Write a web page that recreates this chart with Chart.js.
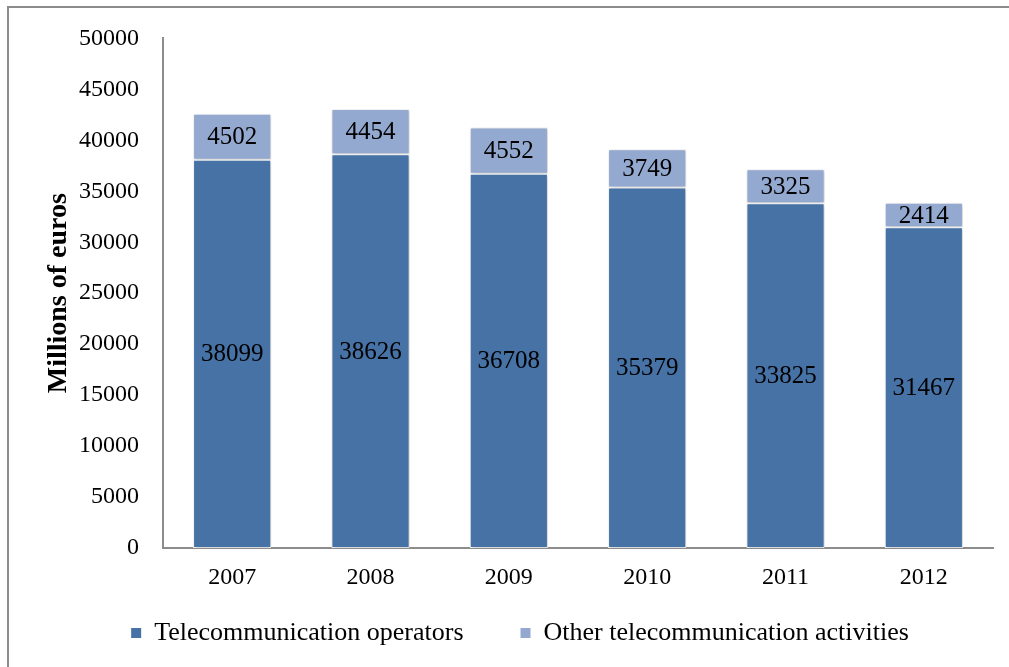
<!DOCTYPE html>
<html>
<head>
<meta charset="utf-8">
<script src="https://cdn.jsdelivr.net/npm/chart.js@4/dist/chart.umd.min.js"></script>
<style>
  html, body { margin: 0; padding: 0; background: #fff; }
  #wrap { position: relative; width: 1009px; height: 667px; overflow: hidden; }
  #frame { position: absolute; left: 7px; top: 6px; width: 1020px; height: 680px;
           border: 2px solid #8c8c8c; pointer-events: none; box-sizing: border-box; }
</style>
</head>
<body>
<div id="wrap">
  <canvas id="chart" width="1009" height="667"></canvas>
  <div id="frame"></div>
</div>
<script>
const years = ['2007', '2008', '2009', '2010', '2011', '2012'];
const operators = [38099, 38626, 36708, 35379, 33825, 31467];
const otherActivities = [4502, 4454, 4552, 3749, 3325, 2414];
const seriesNames = ['Telecommunication operators', 'Other telecommunication activities'];

const serif = "'Liberation Serif', 'DejaVu Serif', serif";

// numbers inside each segment
const segmentLabels = {
  id: 'segmentLabels',
  afterDatasetsDraw(chart) {
    const ctx = chart.ctx;
    ctx.save();
    ctx.font = '25px ' + serif;
    ctx.fillStyle = '#000';
    ctx.textAlign = 'center';
    ctx.textBaseline = 'middle';
    chart.data.datasets.forEach((ds, i) => {
      chart.getDatasetMeta(i).data.forEach((bar, j) => {
        const y = (bar.y + bar.base) / 2;
        ctx.fillText(String(ds.data[j]), bar.x, y + 1);
      });
    });
    ctx.restore();
  }
};

const barShadow = {
  id: 'barShadow',
  beforeDatasetsDraw(chart) {
    const ctx = chart.ctx;
    ctx.save();
    ctx.shadowColor = 'rgba(0,0,0,0.25)';
    ctx.shadowBlur = 4;
    ctx.shadowOffsetX = 1;
    ctx.shadowOffsetY = 1;
  },
  afterDatasetsDraw(chart) {
    chart.ctx.restore();
  }
};

// legend padding doubles as item gap; pull the row back up
const legendNudge = {
  id: 'legendNudge',
  afterLayout(chart) {
    if (chart.legend) {
      chart.legend.top -= 28;
    }
  }
};

new Chart(document.getElementById('chart'), {
  type: 'bar',
  data: {
    labels: years,
    datasets: [
      {
        label: seriesNames[0],
        data: operators,
        backgroundColor: '#4672a6',
        borderColor: '#ffffff',
        borderWidth: 1,
        borderSkipped: false
      },
      {
        label: seriesNames[1],
        data: otherActivities,
        backgroundColor: '#94a9d0',
        borderColor: '#ffffff',
        borderWidth: 1,
        borderSkipped: false
      }
    ]
  },
  options: {
    responsive: false,
    animation: false,
    categoryPercentage: 0.565,
    barPercentage: 1,
    layout: { padding: { top: 23, right: 16, left: 47, bottom: 6 } },
    scales: {
      x: {
        stacked: true,
        grid: { display: false, drawTicks: false },
        border: { color: '#8c8c8c', width: 2 },
        ticks: { color: '#000', font: { family: serif, size: 24 }, padding: 15 },
        afterFit(scale) { scale.height = 43; }
      },
      y: {
        stacked: true,
        min: 0,
        max: 50000,
        grid: { display: false, drawTicks: false },
        border: { color: '#8c8c8c', width: 2 },
        ticks: {
          stepSize: 5000,
          color: '#000',
          font: { family: serif, size: 24 },
          padding: 24,
          callback: v => String(v)
        },
        title: {
          display: true,
          text: 'Millions of euros',
          color: '#000',
          font: { family: serif, size: 28, weight: 'bold', lineHeight: 1 },
          padding: { top: -2, bottom: 10 }
        },
        afterFit(scale) { scale.width = 116; }
      }
    },
    plugins: {
      legend: {
        position: 'bottom',
        maxHeight: 70,
        labels: {
          color: '#000',
          font: { family: serif, size: 26 },
          boxWidth: 10,
          boxHeight: 10,
          useBorderRadius: false,
          padding: 57,
          generateLabels(chart) {
            return chart.data.datasets.map((ds, i) => ({
              text: ds.label,
              fillStyle: ds.backgroundColor,
              strokeStyle: ds.backgroundColor,
              lineWidth: 0,
              datasetIndex: i,
              hidden: false
            }));
          }
        }
      },
      tooltip: { enabled: false }
    }
  },
  plugins: [barShadow, segmentLabels, legendNudge]
});
</script>
</body>
</html>
